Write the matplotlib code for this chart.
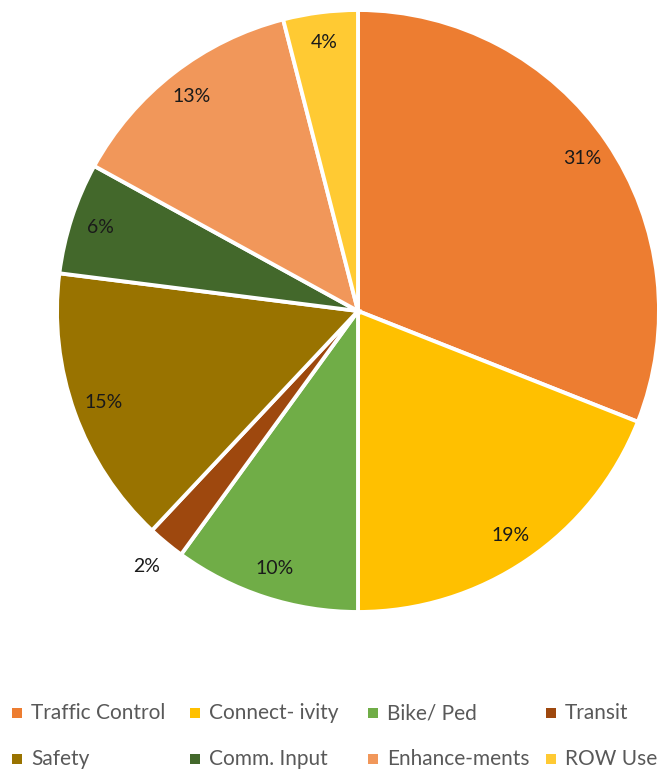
import numpy as np
import matplotlib.pyplot as plt
from matplotlib.patches import Rectangle

categories = ["Traffic Control", "Connect- ivity", "Bike/ Ped", "Transit",
              "Safety", "Comm. Input", "Enhance-ments", "ROW Use"]
shares = [31, 19, 10, 2, 15, 6, 13, 4]
colors = ["#ED7D31", "#FFC000", "#70AD47", "#9E480E",
          "#997300", "#43682B", "#F1975A", "#FFCA33"]

W, H = 657, 769
fig = plt.figure(figsize=(W / 100, H / 100), dpi=100)
ax = fig.add_axes([57 / W, 157 / H, 602 / W, 602 / H])

wedges, _ = ax.pie(shares, colors=colors, startangle=90, counterclock=False,
                   wedgeprops=dict(edgecolor="white", linewidth=2.8))
ax.set_xlim(-1, 1)
ax.set_ylim(-1, 1)
ax.set_aspect("equal")
ax.axis("off")

# percentage labels
for w, v in zip(wedges, shares):
    ang = np.deg2rad((w.theta1 + w.theta2) / 2)
    r = 1.1 if v < 3 else 0.9
    ax.text(r * np.cos(ang), r * np.sin(ang), f"{v}%", ha="center", va="center",
            fontsize=14, family="Lato", color="#1a1a1a")

# legend, 4 equal columns
for i, (lab, c) in enumerate(zip(categories, colors)):
    col, row = i % 4, i // 4
    x = 12 + 178 * col
    y = 713 + 46 * row
    fig.patches.append(Rectangle((x / W, 1 - (y + 5) / H), 10 / W, 10 / H,
                                 facecolor=c, transform=fig.transFigure))
    fig.text((x + 19) / W, 1 - y / H, lab, ha="left", va="center",
             fontsize=15, family="Lato", color="#595959")

fig.savefig("out.png", dpi=100)
